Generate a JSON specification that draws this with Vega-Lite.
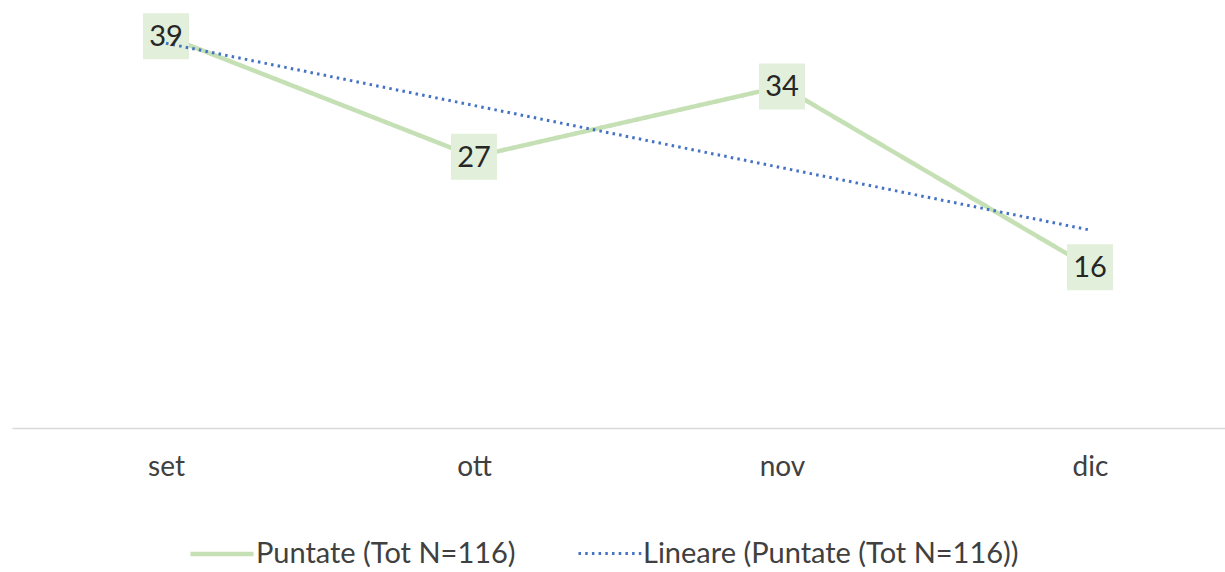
{
  "$schema": "https://vega.github.io/schema/vega-lite/v6.json",
  "width": 1232,
  "height": 428,
  "autosize": {"type": "none"},
  "padding": {"left": 12, "top": 0, "right": 0, "bottom": 144},
  "background": "white",
  "config": {"view": {"stroke": null}, "font": "Lato"},
  "data": {
    "values": [
      {"mese": "set", "serie": "Puntate (Tot N=116)", "valore": 39},
      {"mese": "ott", "serie": "Puntate (Tot N=116)", "valore": 27},
      {"mese": "nov", "serie": "Puntate (Tot N=116)", "valore": 34},
      {"mese": "dic", "serie": "Puntate (Tot N=116)", "valore": 16},
      {"mese": "set", "serie": "Lineare (Puntate (Tot N=116))", "valore": 38.3},
      {"mese": "dic", "serie": "Lineare (Puntate (Tot N=116))", "valore": 19.7}
    ]
  },
  "encoding": {
    "x": {
      "field": "mese",
      "type": "ordinal",
      "sort": ["set", "ott", "nov", "dic"],
      "scale": {"type": "point", "padding": 0.5},
      "axis": {
        "title": null,
        "labelAngle": 0,
        "ticks": false,
        "domainColor": "#D9D9D9",
        "domainWidth": 1.5,
        "labelFontSize": 28,
        "labelColor": "#404040",
        "labelBaseline": "middle",
        "labelPadding": 39,
        "grid": false
      }
    },
    "y": {
      "field": "valore",
      "type": "quantitative",
      "scale": {"domain": [0, 42.6], "nice": false, "zero": true},
      "axis": null
    }
  },
  "layer": [
    {
      "transform": [{"filter": "datum.serie === 'Puntate (Tot N=116)'"}],
      "mark": {"type": "line", "strokeCap": "butt", "strokeJoin": "round"},
      "encoding": {
        "color": {
          "field": "serie",
          "type": "nominal",
          "scale": {"domain": ["Puntate (Tot N=116)", "Lineare (Puntate (Tot N=116))"], "range": ["#C5E0B4", "#4472C4"]},
          "legend": {
            "orient": "none",
            "legendX": 176,
            "legendY": 520,
            "direction": "horizontal",
            "title": null,
            "symbolType": "stroke",
            "symbolSize": 3969,
            "labelFontSize": 29,
            "labelLimit": 600,
            "labelColor": "#404040",
            "labelOffset": 0,
            "columnPadding": 56,
            "padding": 0
          }
        },
        "strokeDash": {
          "field": "serie",
          "type": "nominal",
          "scale": {"domain": ["Puntate (Tot N=116)", "Lineare (Puntate (Tot N=116))"], "range": [[1, 0], [2.5, 4.2]]}
        },
        "strokeWidth": {
          "field": "serie",
          "type": "nominal",
          "scale": {"domain": ["Puntate (Tot N=116)", "Lineare (Puntate (Tot N=116))"], "range": [4.5, 3]}
        }
      }
    },
    {
      "transform": [{"filter": "datum.serie === 'Puntate (Tot N=116)'"}],
      "mark": {"type": "point", "shape": "square", "filled": true, "size": 2116, "color": "#E2EFDA", "opacity": 1, "strokeWidth": 0}
    },
    {
      "transform": [{"filter": "datum.serie === 'Lineare (Puntate (Tot N=116))'"}],
      "mark": {"type": "line"},
      "encoding": {
        "color": {"field": "serie", "type": "nominal"},
        "strokeDash": {"field": "serie", "type": "nominal"},
        "strokeWidth": {"field": "serie", "type": "nominal"}
      }
    },
    {
      "transform": [{"filter": "datum.serie === 'Puntate (Tot N=116)'"}],
      "mark": {"type": "text", "fontSize": 29, "color": "#262626", "baseline": "middle", "align": "center", "dy": 1},
      "encoding": {"text": {"field": "valore", "type": "quantitative"}}
    }
  ]
}
